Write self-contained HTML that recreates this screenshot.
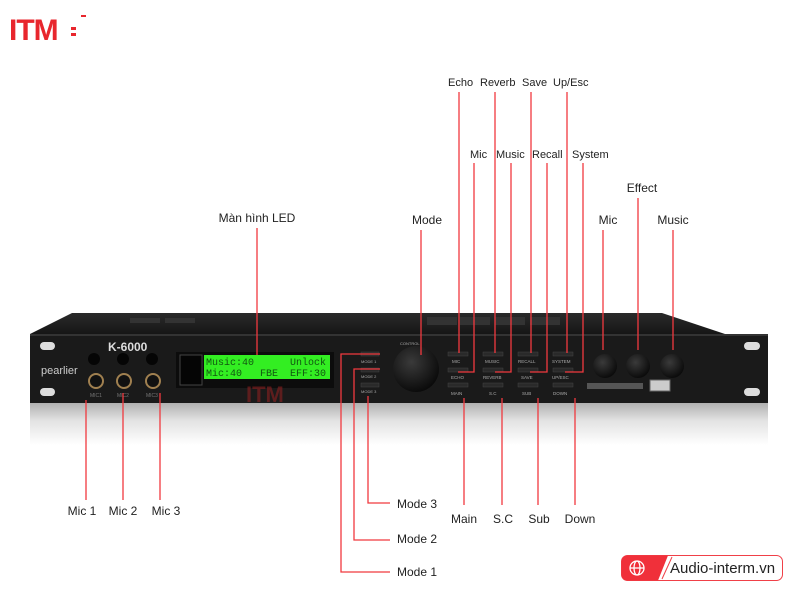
<!DOCTYPE html>
<html><head><meta charset="utf-8"><style>
html,body{margin:0;padding:0;background:#fff;}
svg{display:block;font-family:"Liberation Sans",sans-serif;}
</style></head><body>
<svg width="800" height="600" viewBox="0 0 800 600" xmlns="http://www.w3.org/2000/svg">
<defs>
<linearGradient id="refl" x1="0" y1="0" x2="0" y2="1">
<stop offset="0" stop-color="#a8a8a8"/><stop offset="0.45" stop-color="#e2e2e2"/><stop offset="1" stop-color="#fff"/>
</linearGradient>
<linearGradient id="top" x1="0" y1="0" x2="0" y2="1">
<stop offset="0" stop-color="#2a2a2a"/><stop offset="1" stop-color="#161616"/>
</linearGradient>
<radialGradient id="knob" cx="0.4" cy="0.35" r="0.7">
<stop offset="0" stop-color="#3a3a3a"/><stop offset="1" stop-color="#080808"/>
</radialGradient>
</defs>
<text x="9" y="40" font-size="30" font-weight="bold" fill="#e8262d" letter-spacing="-1">ITM</text>
<rect x="71" y="27" width="5" height="3" fill="#e8262d"/><rect x="71" y="33" width="5" height="3" fill="#e8262d"/><rect x="81" y="15" width="5" height="2" fill="#e8262d"/>
<rect x="30" y="400" width="738" height="45" fill="url(#refl)"/>
<polygon points="72,313 662,313 725,334 30,334" fill="url(#top)"/>
<rect x="130" y="318" width="30" height="5" fill="#333"/><rect x="165" y="318" width="30" height="5" fill="#333"/>
<rect x="427" y="317" width="30" height="8" fill="#333"/><rect x="460" y="317" width="30" height="8" fill="#333"/><rect x="495" y="317" width="30" height="8" fill="#333"/><rect x="530" y="317" width="30" height="8" fill="#333"/>
<rect x="30" y="334" width="738" height="69" fill="#1a1a1a"/>
<rect x="30" y="334" width="738" height="2" fill="#333"/>
<rect x="40" y="342" width="15" height="8" rx="4" fill="#ddd"/><rect x="40" y="388" width="15" height="8" rx="4" fill="#ddd"/>
<rect x="744" y="342" width="16" height="8" rx="4" fill="#ddd"/><rect x="744" y="388" width="16" height="8" rx="4" fill="#ddd"/>
<text x="108" y="351" font-size="12" font-weight="bold" fill="#ddd">K-6000</text>
<text x="41" y="374" font-size="11" fill="#ccc">pearlier</text>
<g fill="#050505"><circle cx="94" cy="359" r="6"/><circle cx="123" cy="359" r="6"/><circle cx="152" cy="359" r="6"/></g>
<g fill="#111" stroke="#a08050" stroke-width="2"><circle cx="96" cy="381" r="7"/><circle cx="124" cy="381" r="7"/><circle cx="153" cy="381" r="7"/></g>
<g font-size="5" fill="#777"><text x="90" y="397">MIC1</text><text x="117" y="397">MIC2</text><text x="146" y="397">MIC3</text></g>
<rect x="176" y="352" width="158" height="36" fill="#0c0c0c"/>
<rect x="180" y="355" width="22" height="30" fill="#050505" stroke="#444"/>
<rect x="204" y="355" width="126" height="24" fill="#33ee22"/>
<g font-family="Liberation Mono,monospace" font-size="10" fill="#115511">
<text x="206" y="365">Music:40</text><text x="290" y="365">Unlock</text>
<text x="206" y="376">Mic:40</text><text x="260" y="376">FBE</text><text x="290" y="376">EFF:30</text></g>
<text x="246" y="402" font-size="22" font-weight="bold" fill="#8a2020" opacity="0.6">ITM</text>
<g fill="#2a2a2a" stroke="#444" stroke-width="0.5"><rect x="361" y="352" width="18" height="4"/><rect x="361" y="368" width="18" height="4"/><rect x="361" y="383" width="18" height="4"/></g>
<g font-size="4" fill="#aaa"><text x="361" y="363">MODE 1</text><text x="361" y="378">MODE 2</text><text x="361" y="393">MODE 3</text><text x="400" y="345">CONTROL</text></g>
<circle cx="416" cy="369" r="23" fill="url(#knob)"/>
<g fill="#2a2a2a" stroke="#444" stroke-width="0.5">
<rect x="448" y="352" width="20" height="4"/><rect x="483" y="352" width="20" height="4"/><rect x="518" y="352" width="20" height="4"/><rect x="553" y="352" width="20" height="4"/>
<rect x="448" y="368" width="20" height="4"/><rect x="483" y="368" width="20" height="4"/><rect x="518" y="368" width="20" height="4"/><rect x="553" y="368" width="20" height="4"/>
<rect x="448" y="383" width="20" height="4"/><rect x="483" y="383" width="20" height="4"/><rect x="518" y="383" width="20" height="4"/><rect x="553" y="383" width="20" height="4"/></g>
<g font-size="4.5" fill="#aaa">
<text x="452" y="363">MIC</text><text x="485" y="363">MUSIC</text><text x="518" y="363">RECALL</text><text x="552" y="363">SYSTEM</text>
<text x="451" y="379">ECHO</text><text x="483" y="379">REVERB</text><text x="521" y="379">SAVE</text><text x="552" y="379">UP/ESC</text>
<text x="451" y="395">MAIN</text><text x="489" y="395">S.C</text><text x="522" y="395">SUB</text><text x="553" y="395">DOWN</text></g>
<g fill="url(#knob)"><circle cx="605" cy="366" r="12"/><circle cx="638" cy="366" r="12"/><circle cx="672" cy="366" r="12"/></g>
<rect x="587" y="383" width="56" height="6" fill="#555"/>
<rect x="650" y="380" width="20" height="11" fill="#ccc" stroke="#666"/>
<g stroke="#f0393f" stroke-width="1.3" fill="none">
<path d="M459 92V353M474 163V372H458M495 92V353M511 163V372H495M531 92V353M547 163V372H530M567 92V353M583 163V372H565"/>
<path d="M421 230V355M257 228V355M603 230V350M638 198V350M673 230V350"/>
<path d="M86 400V500M123 393V500M160 393V500"/>
<path d="M380 354H341V572H390M380 369H354V540H390M368 396V503H390"/>
<path d="M464 398V505M502 398V505M538 398V505M575 398V505"/>
</g>
<g font-size="12" fill="#222">
<text x="448" y="86" font-size="11">Echo</text><text x="480" y="86" font-size="11">Reverb</text><text x="522" y="86" font-size="11">Save</text><text x="553" y="86" font-size="11">Up/Esc</text>
<text x="470" y="158" font-size="11">Mic</text><text x="496" y="158" font-size="11">Music</text><text x="532" y="158" font-size="11">Recall</text><text x="572" y="158" font-size="11">System</text>
<text x="257" y="222" text-anchor="middle">Màn hình LED</text>
<text x="427" y="224" text-anchor="middle">Mode</text>
<text x="608" y="224" text-anchor="middle">Mic</text>
<text x="642" y="192" text-anchor="middle">Effect</text>
<text x="673" y="224" text-anchor="middle">Music</text>
<text x="82" y="515" text-anchor="middle">Mic 1</text><text x="123" y="515" text-anchor="middle">Mic 2</text><text x="166" y="515" text-anchor="middle">Mic 3</text>
<text x="397" y="508">Mode 3</text><text x="397" y="543">Mode 2</text><text x="397" y="576">Mode 1</text>
<text x="464" y="523" text-anchor="middle">Main</text><text x="503" y="523" text-anchor="middle">S.C</text><text x="539" y="523" text-anchor="middle">Sub</text><text x="580" y="523" text-anchor="middle">Down</text>
</g>
<rect x="621.5" y="555.5" width="161" height="25" rx="6" fill="#fff" stroke="#f04048"/>
<path d="M627 555.5H668L658 580.5H627A6 6 0 0 1 621.5 574.5V561.5A6 6 0 0 1 627 555.5Z" fill="#f0303a"/>
<line x1="672" y1="557" x2="662" y2="579" stroke="#f04048"/>
<g stroke="#fff" stroke-width="1.3" fill="none"><circle cx="637" cy="568" r="7"/><ellipse cx="637" cy="568" rx="3" ry="7"/><line x1="630" y1="568" x2="644" y2="568"/></g>
<text x="670" y="573" font-size="15" fill="#222">Audio-interm.vn</text>
</svg>
</body></html>
